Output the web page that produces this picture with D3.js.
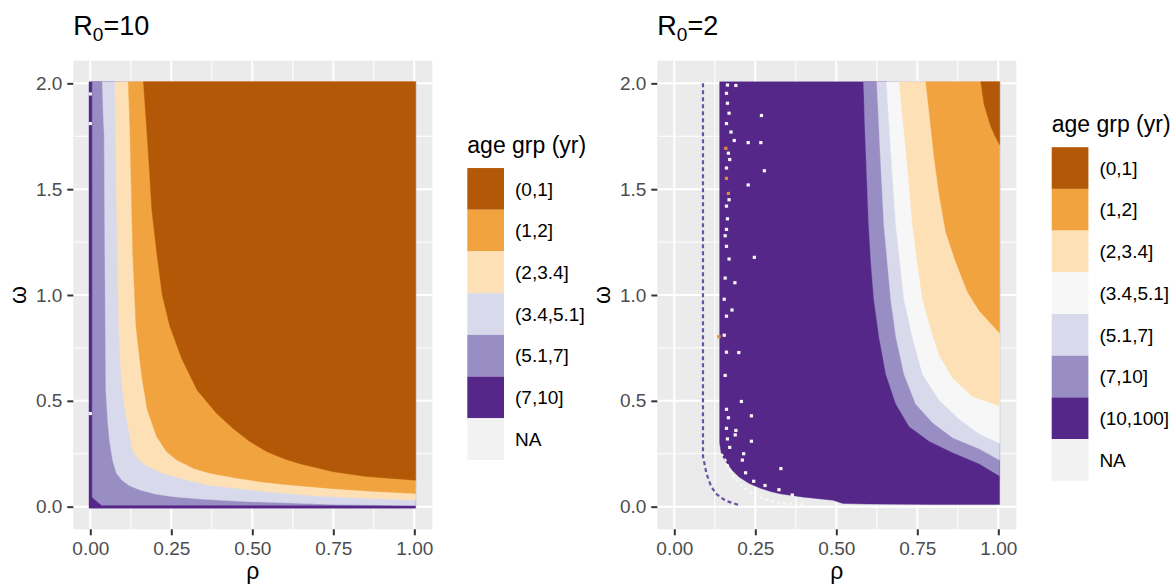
<!DOCTYPE html>
<html>
<head>
<meta charset="utf-8">
<script src="https://cdn.jsdelivr.net/npm/d3@7/dist/d3.min.js"></script>
<style>
  body { margin: 0; background: #fff; }
  text { font-family: "Liberation Sans", Arial, sans-serif; }
</style>
</head>
<body>
<div id="chart"></div>
<script>
// categories of the two panels
const groupsR10 = ["(0,1]", "(1,2]", "(2,3.4]", "(3.4,5.1]", "(5.1,7]", "(7,10]", "NA"];
const groupsR2 = ["(0,1]", "(1,2]", "(2,3.4]", "(3.4,5.1]", "(5.1,7]", "(7,10]", "(10,100]", "NA"];
const fillsR10 = ["#B35806", "#F1A340", "#FEE0B6", "#D8DAEB", "#998EC3", "#542788", "#F2F2F2"];
const fillsR2 = ["#B35806", "#F1A340", "#FEE0B6", "#F7F7F7", "#D8DAEB", "#998EC3", "#542788", "#F2F2F2"];

const xTicks = [0, 0.25, 0.5, 0.75, 1];
const yTicks = [0, 0.5, 1, 1.5, 2];
const xMinor = [0.125, 0.375, 0.625, 0.875];
const yMinor = [0.25, 0.75, 1.25, 1.75];

// R0=10 : boundaries [rho, omega], each one is the lower-left edge of a younger zone
const r10All = [[0, 2], [0, 0], [1, 0]];
const r10Edge7 = [[0.006, 2], [0.006, 0.045], [0.02, 0.025], [0.035, 0.007], [1, 0.006]];
const r10Edge51 = [[0.037, 2], [0.04, 1.85], [0.043, 1.75], [0.045, 1.2], [0.048, 0.55], [0.054, 0.4],
  [0.059, 0.315], [0.069, 0.22], [0.08, 0.16], [0.097, 0.126], [0.12, 0.1], [0.153, 0.079],
  [0.2, 0.06], [0.256, 0.047], [0.35, 0.035], [0.462, 0.025], [0.6, 0.018], [0.75, 0.01], [1, 0.006]];
const r10Edge34 = [[0.076, 2], [0.079, 1.7], [0.081, 1.45], [0.085, 1.1], [0.088, 0.85], [0.094, 0.65],
  [0.1, 0.536], [0.108, 0.45], [0.117, 0.378], [0.13, 0.268], [0.15, 0.22], [0.179, 0.189],
  [0.22, 0.16], [0.297, 0.126], [0.37, 0.1], [0.45, 0.087], [0.55, 0.07], [0.7, 0.05], [0.85, 0.04], [1, 0.032]];
const r10Edge2 = [[0.117, 2], [0.122, 1.8], [0.125, 1.6], [0.131, 1.2], [0.141, 0.85], [0.159, 0.614],
  [0.176, 0.457], [0.205, 0.33], [0.235, 0.26], [0.267, 0.22], [0.32, 0.18], [0.369, 0.158],
  [0.45, 0.135], [0.524, 0.118], [0.6, 0.105], [0.75, 0.085], [0.88, 0.072], [1, 0.062]];
const r10Edge1 = [[0.164, 2], [0.172, 1.83], [0.182, 1.6], [0.19, 1.4], [0.205, 1.2], [0.222, 1.0],
  [0.246, 0.85], [0.282, 0.7], [0.33, 0.55], [0.39, 0.44], [0.44, 0.37], [0.49, 0.31], [0.544, 0.26],
  [0.6, 0.225], [0.647, 0.203], [0.75, 0.165], [0.853, 0.142], [1, 0.125]];
const r10Specks = [[0, 1.95], [0, 1.81], [0, 0.44]];

// R0=2
const r2Edge100 = [[0.14, 2], [0.14, 0.3], [0.145, 0.25], [0.155, 0.22], [0.168, 0.195], [0.18, 0.17],
  [0.2, 0.14], [0.23, 0.11], [0.26, 0.09], [0.3, 0.07], [0.33, 0.06], [0.4, 0.045], [0.49, 0.03],
  [0.52, 0.015], [0.6, 0.012], [0.8, 0.01], [1, 0.01]];
const r2Edge10 = [[0.584, 2], [0.588, 1.8], [0.591, 1.684], [0.6, 1.33], [0.607, 1.15], [0.616, 0.979],
  [0.632, 0.802], [0.653, 0.626], [0.684, 0.485], [0.725, 0.379], [0.787, 0.309], [0.859, 0.256],
  [0.941, 0.203], [1, 0.145]];
const r2Edge7 = [[0.625, 2], [0.635, 1.684], [0.647, 1.33], [0.668, 0.979], [0.684, 0.802], [0.709, 0.626],
  [0.745, 0.485], [0.797, 0.397], [0.859, 0.326], [0.941, 0.273], [1, 0.22]];
const r2Edge51 = [[0.655, 2], [0.668, 1.684], [0.684, 1.33], [0.709, 0.979], [0.735, 0.802], [0.766, 0.626],
  [0.818, 0.503], [0.879, 0.414], [0.941, 0.344], [1, 0.3]];
const r2Edge34 = [[0.694, 2], [0.709, 1.77], [0.72, 1.596], [0.735, 1.33], [0.75, 1.155], [0.766, 0.979],
  [0.792, 0.838], [0.818, 0.714], [0.859, 0.608], [0.92, 0.52], [1, 0.476]];
const r2Edge2 = [[0.776, 2], [0.787, 1.86], [0.802, 1.65], [0.818, 1.47], [0.838, 1.296], [0.869, 1.155],
  [0.905, 1.014], [0.941, 0.926], [1, 0.82]];
const r2Edge1 = [[0.946, 2], [0.956, 1.9], [0.976, 1.8], [0.99, 1.75], [1, 1.71]];
// cells of (3.4,5.1] scattered in / along the purple block
const r2Specks = [[0.269, 1.848], [0.228, 1.72], [0.267, 1.72], [0.278, 1.587], [0.228, 1.52], [0.247, 1.178],
  [0.187, 1.058], [0.178, 0.929], [0.199, 0.728], [0.207, 0.497], [0.238, 0.429], [0.188, 0.339],
  [0.238, 0.309], [0.329, 0.18], [0.214, 0.25],
  [0.164, 1.992], [0.19, 1.99], [0.161, 1.953], [0.164, 1.906], [0.169, 1.859], [0.161, 1.81], [0.175, 1.77],
  [0.185, 1.73], [0.167, 1.67], [0.171, 1.64], [0.161, 1.6], [0.169, 1.45], [0.161, 1.42], [0.164, 1.36],
  [0.161, 1.31], [0.157, 1.28], [0.161, 1.23], [0.169, 1.17], [0.157, 1.08], [0.154, 0.98], [0.161, 0.9],
  [0.154, 0.81], [0.161, 0.73], [0.157, 0.62], [0.161, 0.46], [0.167, 0.42], [0.161, 0.37], [0.164, 0.32],
  [0.171, 0.28], [0.19, 0.36], [0.21, 0.22], [0.22, 0.16], [0.245, 0.12], [0.28, 0.1], [0.323, 0.08], [0.364, 0.055]];
const r2OrangeSpecks = [[0.159, 1.693], [0.161, 1.551], [0.167, 1.48], [0.138, 0.803]];
const r2OuterLine = [[0.0885, 2], [0.0885, 0.236], [0.094, 0.197], [0.099, 0.157], [0.112, 0.102],
  [0.127, 0.063], [0.158, 0.028], [0.199, 0.008]];
const r2InnerLine = [[0.145, 0.25], [0.158, 0.22], [0.178, 0.15], [0.209, 0.097], [0.24, 0.062],
  [0.281, 0.035], [0.323, 0.018], [0.4, 0.01]];

const width = 1173;
const height = 586;
const panelTop = 60.7, panelBottom = 529.3, panelW = 359;
const hR = 0.004, hW = 0.007; // half a raster cell

const svg = d3.select("#chart").append("svg")
  .attr("width", width).attr("height", height)
  .attr("viewBox", [0, 0, width, height]);

const pad = ([r, w]) => [r <= 0 ? -hR : r >= 1 ? 1 + hR : r, w <= 0 ? -hW : w >= 2 ? 2 + hW : w];

function drawPanel(p) {
  const x = d3.scaleLinear().domain([-0.0525, 1.0555]).range([p.left, p.left + panelW]);
  const y = d3.scaleLinear().domain([-0.107, 2.107]).range([panelBottom, panelTop]);
  const g = svg.append("g");

  g.append("rect").attr("x", p.left).attr("y", panelTop)
    .attr("width", panelW).attr("height", panelBottom - panelTop).attr("fill", "#EBEBEB");

  // grid
  g.selectAll(".vminor").data(xMinor).join("line")
    .attr("x1", d => x(d)).attr("x2", d => x(d)).attr("y1", panelTop).attr("y2", panelBottom)
    .attr("stroke", "#fff").attr("stroke-width", 1);
  g.selectAll(".hminor").data(yMinor).join("line")
    .attr("y1", d => y(d)).attr("y2", d => y(d)).attr("x1", p.left).attr("x2", p.left + panelW)
    .attr("stroke", "#fff").attr("stroke-width", 1);
  g.selectAll(".vmajor").data(xTicks).join("line")
    .attr("x1", d => x(d)).attr("x2", d => x(d)).attr("y1", panelTop).attr("y2", panelBottom)
    .attr("stroke", "#fff").attr("stroke-width", 2);
  g.selectAll(".hmajor").data(yTicks).join("line")
    .attr("y1", d => y(d)).attr("y2", d => y(d)).attr("x1", p.left).attr("x2", p.left + panelW)
    .attr("stroke", "#fff").attr("stroke-width", 2);

  // zones, painted from the oldest group to the youngest
  const line = d3.line().x(d => x(d[0])).y(d => y(d[1]));
  p.layers.forEach(l => {
    const pts = l.edge.map(pad);
    pts.push([1 + hR, 2 + hW]);
    g.append("path").attr("d", line(pts) + "Z").attr("fill", l.color)
      .attr("stroke", l.color).attr("stroke-width", 0.4);
  });

  const cw = x(0.01) - x(0), ch = y(0) - y(0.015);
  (p.specks || []).forEach(s => {
    g.selectAll(null).data(s.data).join("rect")
      .attr("x", d => x(d[0]) - cw / 2).attr("y", d => y(d[1]) - ch / 2)
      .attr("width", cw).attr("height", ch).attr("fill", s.color);
  });

  (p.lines || []).forEach(l => {
    g.append("path").attr("d", line(l.data)).attr("fill", "none")
      .attr("stroke", l.color).attr("stroke-width", 2.2).attr("stroke-dasharray", l.dash);
  });

  // axes
  const ax = g.append("g").attr("transform", `translate(0,${panelBottom})`)
    .call(d3.axisBottom(x).tickValues(xTicks).tickFormat(d3.format(".2f")).tickSize(6).tickPadding(6));
  const ay = g.append("g").attr("transform", `translate(${p.left},0)`)
    .call(d3.axisLeft(y).tickValues(yTicks).tickFormat(d3.format(".1f")).tickSize(6).tickPadding(5));
  [ax, ay].forEach(a => {
    a.select(".domain").remove();
    a.selectAll("line").attr("stroke", "#333").attr("stroke-width", 2);
    a.selectAll("text").attr("fill", "#4D4D4D").style("font-size", "19px")
      .style("font-family", '"Liberation Sans", Arial, sans-serif');
  });

  g.append("text").attr("x", p.left + panelW / 2).attr("y", 579)
    .attr("text-anchor", "middle").style("font-size", "23px").text("ρ");
  g.append("text").attr("transform", `translate(${p.left - 47},${(panelTop + panelBottom) / 2}) rotate(-90)`)
    .attr("text-anchor", "middle").style("font-size", "23px").text("ω");

  const t = g.append("text").attr("x", p.left).attr("y", 35).style("font-size", "27px");
  t.append("tspan").text("R");
  t.append("tspan").attr("dy", 6).style("font-size", "19px").text("0");
  t.append("tspan").attr("dy", -6).text("=" + p.r0);

  // legend
  const keyH = 41.7, keyW = 36.7;
  const top0 = 314 - p.groups.length * keyH / 2;
  const lg = g.append("g");
  lg.append("text").attr("x", p.legendX).attr("y", top0 - 15).style("font-size", "23px").text("age grp (yr)");
  lg.selectAll("rect").data(p.groups).join("rect")
    .attr("x", p.legendX).attr("y", (d, i) => top0 + i * keyH)
    .attr("width", keyW).attr("height", keyH).attr("fill", (d, i) => p.fills[i]);
  lg.selectAll(".lab").data(p.groups).join("text")
    .attr("x", p.legendX + keyW + 11).attr("y", (d, i) => top0 + i * keyH + keyH / 2)
    .attr("dy", "0.35em").style("font-size", "19px").text(d => d);
}

drawPanel({
  left: 73.3, legendX: 467.3, r0: "10", groups: groupsR10, fills: fillsR10,
  layers: [
    { edge: r10All, color: fillsR10[5] },
    { edge: r10Edge7, color: fillsR10[4] },
    { edge: r10Edge51, color: fillsR10[3] },
    { edge: r10Edge34, color: fillsR10[2] },
    { edge: r10Edge2, color: fillsR10[1] },
    { edge: r10Edge1, color: fillsR10[0] }
  ],
  specks: [{ data: r10Specks, color: "#F2F2F2" }]
});

drawPanel({
  left: 657.3, legendX: 1051.7, r0: "2", groups: groupsR2, fills: fillsR2,
  layers: [
    { edge: r2Edge100, color: fillsR2[6] },
    { edge: r2Edge10, color: fillsR2[5] },
    { edge: r2Edge7, color: fillsR2[4] },
    { edge: r2Edge51, color: fillsR2[3] },
    { edge: r2Edge34, color: fillsR2[2] },
    { edge: r2Edge2, color: fillsR2[1] },
    { edge: r2Edge1, color: fillsR2[0] }
  ],
  specks: [{ data: r2Specks, color: fillsR2[3] }, { data: r2OrangeSpecks, color: "#E08A3C" }],
  lines: [
    { data: r2OuterLine, color: "#6A51A3", dash: "4 3" },
    { data: r2InnerLine, color: "#F7F7F7", dash: "3 3" }
  ]
});
</script>
</body>
</html>
